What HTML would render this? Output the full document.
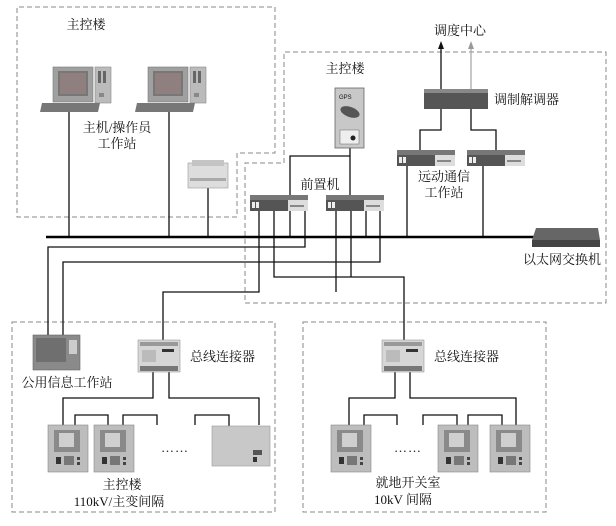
<!DOCTYPE html>
<html><head><meta charset="utf-8"><style>
html,body{margin:0;padding:0;background:#fff;}
svg{display:block;}
text{font-family:"Liberation Serif","Noto Serif CJK SC","Noto Sans CJK SC",serif;font-size:13px;fill:#111;}
</style></head><body>
<svg width="616" height="526" viewBox="0 0 616 526" xmlns="http://www.w3.org/2000/svg">
<defs>
<g id="fe">
<rect x="0" y="0" width="58" height="5" fill="#777"/>
<rect x="0" y="5" width="58" height="11" fill="#555"/>
<rect x="38" y="5" width="20" height="11" fill="#ddd"/>
<rect x="2" y="7" width="3" height="6" fill="#eee"/>
<rect x="6" y="7" width="3" height="6" fill="#eee"/>
<rect x="40" y="10" width="14" height="2" fill="#888"/>
</g>
<g id="relay">
<rect x="0" y="0" width="40" height="47" fill="#bdbdbd" stroke="#888" stroke-width="0.6"/>
<rect x="6" y="5" width="26" height="22" fill="#8a8a8a"/>
<rect x="11" y="8" width="15" height="14" fill="#cfcfcf"/>
<rect x="8" y="32" width="5" height="7" fill="#333"/>
<rect x="16" y="31" width="10" height="9" fill="#777"/>
<rect x="29" y="32" width="3" height="3" fill="#444"/>
<rect x="29" y="37" width="3" height="3" fill="#444"/>
</g>
<g id="bc">
<rect x="0" y="0" width="42" height="32" fill="#d6d6d6" stroke="#999" stroke-width="0.6"/>
<rect x="2" y="2" width="38" height="4" fill="#999"/>
<rect x="24" y="9" width="12" height="3" fill="#333"/>
<rect x="4" y="10" width="14" height="12" fill="#bbb"/>
<rect x="2" y="26" width="38" height="5" fill="#777"/>
</g>
<g id="pc">
<rect x="0" y="0" width="40" height="35" fill="#a0a0a0" stroke="#777" stroke-width="0.6"/>
<rect x="5" y="4" width="30" height="25" fill="#777"/>
<rect x="7" y="6" width="26" height="21" fill="#8f7f7f"/>
<rect x="42" y="0" width="16" height="36" fill="#bbb" stroke="#888" stroke-width="0.6"/>
<rect x="45" y="4" width="3" height="12" fill="#666"/><rect x="50" y="4" width="3" height="12" fill="#666"/>
<rect x="46" y="26" width="5" height="4" fill="#888"/>
<polygon points="-11,36 47,36 45,45 -13,45" fill="#777"/>
</g>
</defs>

<!-- dashed boxes -->
<g fill="none" stroke="#888" stroke-width="1" stroke-dasharray="5,3">
<polyline points="237,217 17,217 17,7 275,7 275,153 237,153 237,217"/>
<polyline points="284,163 284,52 606,52 606,303 245,303 245,163 284,163"/>
<rect x="12" y="322" width="263" height="190"/>
<rect x="303" y="322" width="243" height="190"/>
</g>

<!-- lines -->
<g fill="none" stroke="#111" stroke-width="1.3">
<line x1="69" y1="112" x2="69" y2="237"/>
<line x1="169" y1="112" x2="169" y2="237"/>
<line x1="208" y1="188" x2="208" y2="237"/>
<polyline points="290,195 290,156 350,156"/>
<line x1="350" y1="148" x2="350" y2="195"/>
<line x1="407" y1="166" x2="407" y2="237"/>
<line x1="483" y1="166" x2="483" y2="237"/>
<polyline points="420,150 420,130 441,130 441,109"/>
<polyline points="496,150 496,130 471,130 471,109"/>
<line x1="441" y1="89" x2="441" y2="47"/>
<line x1="290" y1="211" x2="290" y2="237"/>
<line x1="366" y1="211" x2="366" y2="237"/>
<polyline points="305,211 305,247 48,247 48,335"/>
<polyline points="380,211 380,262 63,262 63,335"/>
<polyline points="274,211 274,277 404,277 404,340"/>
<line x1="351" y1="211" x2="351" y2="277"/>
<polyline points="259,211 259,292 163,292 163,340"/>
<line x1="336" y1="211" x2="336" y2="292"/>
<!-- bottom left -->
<polyline points="153,372 153,398 63,398 63,425"/>
<polyline points="169,372 169,398 259,398 259,425"/>
<polyline points="75,425 75,415 108,415 108,425"/>
<polyline points="123,425 123,415 157,415 157,425"/>
<polyline points="195,425 195,415 229,415 229,426"/>
<!-- bottom right -->
<polyline points="395,372 395,398 349,398 349,425"/>
<polyline points="410,372 410,398 516,398 516,425"/>
<polyline points="364,425 364,415 397,415 397,425"/>
<polyline points="423,425 423,415 457,415 457,425"/>
<polyline points="468,425 468,415 502,415 502,425"/>
</g>
<line x1="471" y1="89" x2="471" y2="47" stroke="#aaa" stroke-width="1.3"/>
<polygon points="441,41 438,49 444,49" fill="#111"/>
<polygon points="471,41 468,49 474,49" fill="#999"/>
<!-- bus -->
<line x1="46" y1="237" x2="534" y2="237" stroke="#000" stroke-width="2.6"/>

<!-- devices -->
<use href="#pc" x="53" y="67"/>
<use href="#pc" x="148" y="67"/>
<g>
<rect x="188" y="163" width="40" height="25" fill="#ddd" stroke="#999" stroke-width="0.6"/>
<rect x="192" y="160" width="32" height="6" fill="#c4c4c4"/>
<rect x="190" y="178" width="36" height="3" fill="#aaa"/>
</g>
<g>
<rect x="335" y="88" width="29" height="60" fill="#c8c8c8" stroke="#666" stroke-width="0.8"/>
<text x="339" y="99" style="font-size:6px;font-family:'Liberation Sans',sans-serif;">GPS</text>
<ellipse cx="350" cy="112" rx="10" ry="5" fill="#555" transform="rotate(20 350 112)"/>
<rect x="340" y="130" width="19" height="14" fill="#eee" stroke="#666" stroke-width="0.5"/>
<circle cx="353" cy="138" r="2.5" fill="#222"/>
</g>
<rect x="424" y="89" width="64" height="20" fill="#555"/>
<rect x="424" y="89" width="64" height="4" fill="#888"/>
<use href="#fe" x="250" y="195"/>
<use href="#fe" x="326" y="195"/>
<use href="#fe" x="397" y="150"/>
<use href="#fe" x="467" y="150"/>
<g>
<polygon points="536,228 598,228 600,240 532,240" fill="#666"/>
<rect x="532" y="240" width="68" height="7" fill="#444"/>
</g>
<g>
<rect x="33" y="335" width="47" height="35" fill="#8a8a8a" stroke="#666" stroke-width="0.6"/>
<rect x="36" y="338" width="30" height="24" fill="#6f6f6f"/>
<rect x="69" y="340" width="8" height="14" fill="#ccc"/>
</g>
<use href="#bc" x="138" y="340"/>
<use href="#bc" x="382" y="340"/>
<use href="#relay" x="48" y="425"/>
<use href="#relay" x="94" y="425"/>
<g>
<rect x="212" y="426" width="58" height="40" fill="#c8c8c8" stroke="#999" stroke-width="0.6"/>
<rect x="253" y="450" width="9" height="5" fill="#555"/>
<rect x="253" y="457" width="4" height="5" fill="#333"/>
</g>
<use href="#relay" x="331" y="425"/>
<use href="#relay" x="438" y="425"/>
<use href="#relay" x="490" y="425"/>

<!-- labels -->
<text x="86" y="29" text-anchor="middle">主控楼</text>
<text x="117" y="132" text-anchor="middle">主机/操作员</text>
<text x="117" y="148" text-anchor="middle">工作站</text>
<text x="460" y="35" text-anchor="middle">调度中心</text>
<text x="345" y="73" text-anchor="middle">主控楼</text>
<text x="494" y="104">调制解调器</text>
<text x="320" y="189" text-anchor="middle">前置机</text>
<text x="444" y="181" text-anchor="middle">远动通信</text>
<text x="444" y="197" text-anchor="middle">工作站</text>
<text x="562" y="264" text-anchor="middle">以太网交换机</text>
<text x="67" y="387" text-anchor="middle">公用信息工作站</text>
<text x="190" y="361">总线连接器</text>
<text x="434" y="361">总线连接器</text>
<text x="175" y="452" text-anchor="middle" style="letter-spacing:1px">……</text>
<text x="408" y="452" text-anchor="middle" style="letter-spacing:1px">……</text>
<text x="122" y="489" text-anchor="middle">主控楼</text>
<text x="119" y="506" text-anchor="middle">110kV/主变间隔</text>
<text x="408" y="487" text-anchor="middle">就地开关室</text>
<text x="403" y="504" text-anchor="middle">10kV 间隔</text>
</svg>
</body></html>
